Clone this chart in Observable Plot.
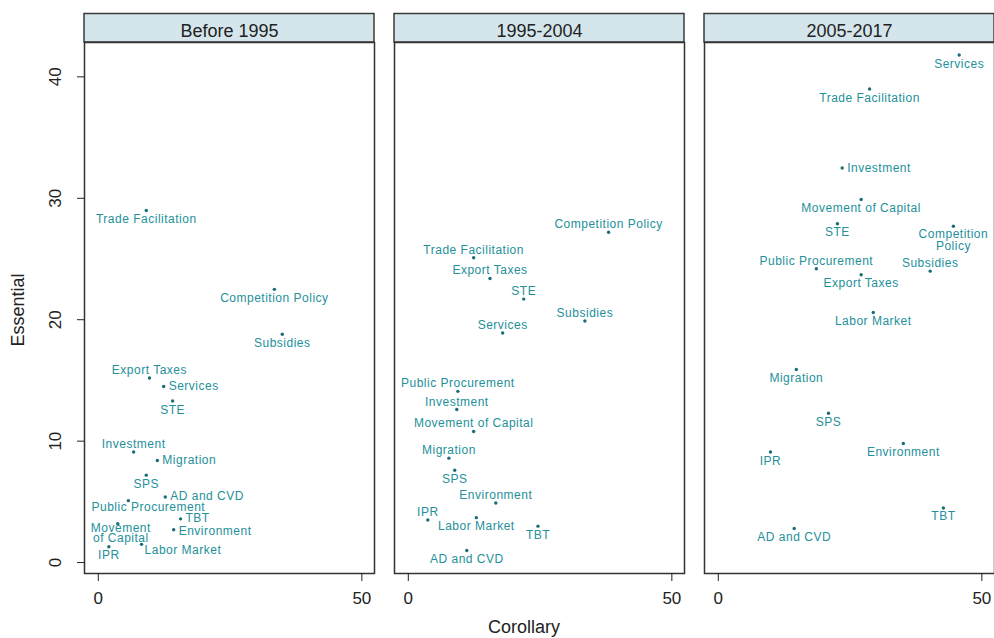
<!DOCTYPE html>
<html>
<head>
<meta charset="utf-8">
<script src="https://cdn.jsdelivr.net/npm/d3@7"></script>
<script src="https://cdn.jsdelivr.net/npm/@observablehq/plot@0.6"></script>
<style>
  html, body { margin: 0; padding: 0; background: #fff; }
  #chart svg g[aria-label="text"] text { letter-spacing: 0.5px; }
</style>
</head>
<body>
<div id="chart"></div>
<script>
const periods = ["Before 1995", "1995-2004", "2005-2017"];
const topics = ["Trade Facilitation", "Competition Policy", "Subsidies", "Export Taxes", "Services", "STE",
  "Investment", "Migration", "SPS", "AD and CVD", "Public Procurement", "TBT", "Environment",
  "Movement of Capital", "IPR", "Labor Market"];

const corollaryBefore1995 = [9.1, 33.4, 34.9, 9.7, 12.4, 14.1, 6.7, 11.2, 9.1, 12.7, 5.7, 15.6, 14.3, 3.7, 2.0, 8.2];
const essentialBefore1995 = [29.0, 22.5, 18.8, 15.2, 14.5, 13.3, 9.1, 8.4, 7.2, 5.4, 5.1, 3.6, 2.7, 3.2, 1.3, 1.5];
const corollary1995_2004 = [12.4, 38.0, 33.5, 15.5, 17.9, 21.9, 9.2, 7.7, 8.8, 11.1, 9.4, 24.6, 16.6, 12.4, 3.7, 12.9];
const essential1995_2004 = [25.1, 27.2, 19.9, 23.4, 18.9, 21.7, 12.6, 8.6, 7.6, 1.0, 14.1, 3.0, 4.9, 10.8, 3.5, 3.7];
const corollary2005_2017 = [28.7, 44.6, 40.2, 27.1, 45.7, 22.6, 23.5, 14.8, 20.9, 14.4, 18.6, 42.7, 35.1, 27.1, 9.9, 29.4];
const essential2005_2017 = [39.0, 27.7, 24.0, 23.7, 41.8, 27.9, 32.5, 15.9, 12.3, 2.8, 24.2, 4.5, 9.8, 29.9, 9.1, 20.6];

const xTicks = [0, 50];
const yTicks = [0, 10, 20, 30, 40];

// label placement (clock-style), kept apart from the data
const placement = {
  "Before 1995": {default: "S", "Export Taxes": "N", "Services": "E", "Investment": "N", "Migration": "E",
    "AD and CVD": "Eup", "Public Procurement": "SSE", "TBT": "Eup", "Environment": "Edn",
    "Movement of Capital": "S2", "Labor Market": "SE"},
  "1995-2004": {default: "N", "SPS": "S", "Labor Market": "S", "TBT": "S", "AD and CVD": "S"},
  "2005-2017": {default: "S", "Investment": "E", "Public Procurement": "N", "Subsidies": "N", "Competition Policy": "S3"}
};
const wrapped = {
  "Before 1995|Movement of Capital": "Movement\nof Capital",
  "2005-2017|Competition Policy": "Competition\nPolicy"
};

const series = [
  [periods[0], corollaryBefore1995, essentialBefore1995],
  [periods[1], corollary1995_2004, essential1995_2004],
  [periods[2], corollary2005_2017, essential2005_2017]
];
const rows = series.flatMap(([period, xs, ys]) => topics.map((t, i) => ({
  period, topic: t, corollary: xs[i], essential: ys[i],
  label: wrapped[period + "|" + t] || t,
  pos: placement[period][t] || placement[period].default
})));

const teal = "#23909a";
const dotColor = "#1a6d76";
const lblFont = "Liberation Sans, Arial, sans-serif";
const common = {x: "corollary", y: "essential", fx: "period", text: "label", fill: teal, fontSize: 12, fontFamily: lblFont};
const styles = {
  S: {lineAnchor: "top", dy: 4},
  N: {lineAnchor: "bottom", dy: -4},
  E: {textAnchor: "start", dx: 5},
  Eup: {textAnchor: "start", dx: 5, dy: -1},
  Edn: {textAnchor: "start", dx: 5, dy: 1},
  SE: {textAnchor: "start", dx: 3, dy: 6},
  SSE: {lineAnchor: "top", dx: 20, dy: 2},
  S2: {lineAnchor: "top", dx: 3, dy: 1, lineHeight: 0.85},
  S3: {lineAnchor: "top", dy: 3, lineHeight: 1.0}
};
const textMarks = Object.entries(styles).map(([code, st]) =>
  Plot.text(rows.filter(d => d.pos === code), {...common, ...st}));

const plot = Plot.plot({
  width: 994,
  height: 638,
  marginLeft: 83,
  marginRight: 0,
  marginTop: 42,
  marginBottom: 65,
  style: {background: "#fff", fontFamily: "Liberation Sans, Arial, sans-serif", color: "#222"},
  fx: {domain: periods, paddingInner: 0.066, paddingOuter: 0},
  x: {domain: [-2.62, 52.4]},
  y: {domain: [-0.9, 42.83]},
  marks: [
    Plot.frame({stroke: "#333", strokeWidth: 1.5}),
    Plot.axisFx({anchor: "top", tickSize: 0, tickPadding: 6, fontSize: 18, label: null}),
    Plot.axisX({ticks: xTicks, tickSize: 8, tickPadding: 10, fontSize: 17, label: null}),
    Plot.axisY({ticks: yTicks, tickSize: 7, tickPadding: 17, tickRotate: -90, fontSize: 17, label: null}),
    Plot.dot(rows, {x: "corollary", y: "essential", fx: "period", r: 1.7, fill: dotColor}),
    ...textMarks
  ]
});

document.getElementById("chart").appendChild(plot);

// strip headers above each panel
const svg = d3.select(plot);
const fx = plot.scale("fx");
const bw = fx.bandwidth;
periods.forEach(p => {
  const x0 = fx.apply(p);
  svg.insert("rect", ":first-child")
    .attr("x", x0).attr("y", 13.5).attr("width", bw).attr("height", 28.5)
    .attr("fill", "#d4e6ec").attr("stroke", "#3a3a3a").attr("stroke-width", 1.5);
});
svg.append("text")
  .attr("x", 524).attr("y", 628).attr("text-anchor", "middle").attr("dominant-baseline", "middle")
  .attr("font-size", 18).attr("fill", "#222").attr("font-family", "Liberation Sans, Arial, sans-serif")
  .text("Corollary");
svg.append("text")
  .attr("transform", "translate(19,310) rotate(-90)").attr("text-anchor", "middle").attr("dominant-baseline", "middle")
  .attr("font-size", 18).attr("fill", "#222").attr("font-family", "Liberation Sans, Arial, sans-serif")
  .text("Essential");
</script>
</body>
</html>
